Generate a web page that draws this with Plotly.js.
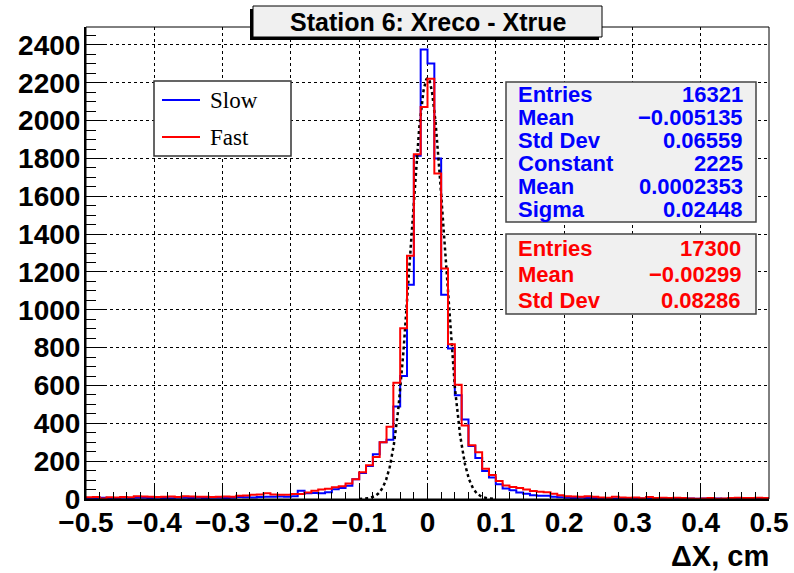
<!DOCTYPE html>
<html><head><meta charset="utf-8">
<script src="https://cdn.plot.ly/plotly-3.0.1.min.js"></script>
<style>html,body{margin:0;padding:0;background:#fff;} #chart{width:794px;height:573px;}</style>
</head><body><div id="chart"></div>
<script>
// ---- data ----
const binLow = -0.5;
const binWidth = 0.01;
const nBins = 100;
const seriesNames = ["Slow", "Fast"];
const slowCounts = [
  5,4,6,5,4,6,5,7,6,5,6,5,4,6,7,5,6,5,6,7,5,6,
  10,9,8,10,12,12,13,12,14,
  44,30,32,30,36,52,58,70,105,
  137,175,236,300,313,489,650,1132,1815,2376,2302,1800,1080,796,548,420,280,217,148,113,78,55,46,
  35,28,20,17,17,12,9,
  6,5,6,5,5,
  3,4,3,2,3,4,2,3,2,3,1,2,3,2,1,2,3,2,1,2,2,1,3,2,2
];
const fastCounts = [
  9,10,3,9,8,10,9,14,13,12,11,12,13,11,14,13,12,12,11,12,13,12,
  17,18,23,24,31,24,22,23,26,27,35,44,50,54,62,67,82,104,
  142,178,222,300,382,615,902,1286,1823,2072,2221,1721,1219,818,604,389,284,247,160,127,95,72,64,
  58,50,42,38,36,28,20,
  14,13,12,14,12,
  8,7,12,8,7,8,4,10,5,6,5,6,5,2,1,2,5,1,2,5,6,5,5,6,5
];
// Gaussian fit parameters (from the stat box)
const fitConstant = 2225;
const fitMean = 0.0002353;
const fitSigma = 0.02448;
const fitRange = [-0.1, 0.1];

const titleText = "Station 6: Xreco - Xtrue";
const xTitleText = "\u0394X, cm";
const slowStatLabels = ["Entries", "Mean", "Std Dev", "Constant", "Mean", "Sigma"];
const slowStatValues = ["16321", "\u22120.005135", "0.06559", "2225", "0.0002353", "0.02448"];
const fastStatLabels = ["Entries", "Mean", "Std Dev"];
const fastStatValues = ["17300", "\u22120.00299", "0.08286"];

// ---- build ----
const edges = [];
for (let i = 0; i <= nBins; i++) edges.push(+(binLow + i * binWidth).toFixed(4));
const stepY = c => c.concat([c[c.length - 1]]);

const fitX = [], fitY = [];
for (let i = 0; i <= 400; i++) {
  const x = fitRange[0] + (fitRange[1] - fitRange[0]) * i / 400;
  fitX.push(x);
  fitY.push(fitConstant * Math.exp(-0.5 * Math.pow((x - fitMean) / fitSigma, 2)));
}

const BLUE = "#0000ff", RED = "#ff0000";
const traces = [
  {x: edges, y: stepY(slowCounts), type: "scatter", mode: "lines", name: seriesNames[0],
   line: {shape: "hv", color: BLUE, width: 2}, showlegend: false},
  {x: fitX, y: fitY, type: "scatter", mode: "lines", name: "gaus",
   line: {color: "#000", width: 2.5, dash: "dot"}, showlegend: false},
  {x: edges, y: stepY(fastCounts), type: "scatter", mode: "lines", name: seriesNames[1],
   line: {shape: "hv", color: RED, width: 2}, showlegend: false}
];

const W = 794, H = 573, L = 86, R = 25, T = 27, B = 74;
const pw = W - L - R, ph = H - T - B;
const px = x => (x - L) / pw;
const py = y => (H - B - y) / ph;

const SANS = "Liberation Sans, Arial, Helvetica, sans-serif";
const SERIF = "Liberation Serif, Times New Roman, serif";

const shapes = [];
const annotations = [];

// frame (top/right)
shapes.push({type: "rect", xref: "paper", yref: "paper", x0: 0, x1: 1, y0: 0, y1: 1,
  line: {color: "#000", width: 1}, fillcolor: "rgba(0,0,0,0)", layer: "above"});

// title box with shadow
shapes.push({type: "rect", xref: "paper", yref: "paper", x0: px(250), x1: px(599), y0: py(40), y1: py(9),
  line: {width: 0}, fillcolor: "#000", layer: "above"});
shapes.push({type: "rect", xref: "paper", yref: "paper", x0: px(253), x1: px(602), y0: py(37), y1: py(6),
  line: {color: "#000", width: 1}, fillcolor: "#f0f0f0", layer: "above"});
annotations.push({xref: "paper", yref: "paper", x: px(428), y: py(22), text: titleText, showarrow: false,
  xanchor: "center", yanchor: "middle", font: {family: SANS, size: 25, color: "#000", weight: 700}});

// legend box
shapes.push({type: "rect", xref: "paper", yref: "paper", x0: px(154), x1: px(291), y0: py(156), y1: py(81),
  line: {color: "#333", width: 1.5}, fillcolor: "#fff", layer: "above"});
shapes.push({type: "line", xref: "paper", yref: "paper", x0: px(162), x1: px(200), y0: py(100), y1: py(100),
  line: {color: BLUE, width: 2}, layer: "above"});
shapes.push({type: "line", xref: "paper", yref: "paper", x0: px(162), x1: px(200), y0: py(137), y1: py(137),
  line: {color: RED, width: 2}, layer: "above"});
annotations.push({xref: "paper", yref: "paper", x: px(208), y: py(100), text: seriesNames[0], showarrow: false,
  xanchor: "left", yanchor: "middle", font: {family: SERIF, size: 23, color: "#000"}});
annotations.push({xref: "paper", yref: "paper", x: px(208), y: py(137), text: seriesNames[1], showarrow: false,
  xanchor: "left", yanchor: "middle", font: {family: SERIF, size: 23, color: "#000"}});

// stat boxes
function statBox(x0, x1, y0, y1, labels, values, color, firstY, dy, labelX, valueX) {
  shapes.push({type: "rect", xref: "paper", yref: "paper", x0: px(x0), x1: px(x1), y0: py(y1), y1: py(y0),
    line: {color: "#444", width: 1.5}, fillcolor: "#f0f0f0", layer: "above"});
  labels.forEach((lab, i) => {
    const y = firstY + i * dy;
    annotations.push({xref: "paper", yref: "paper", x: px(labelX), y: py(y), text: lab, showarrow: false,
      xanchor: "left", yanchor: "middle", font: {family: SANS, size: 22, color: color, weight: 700}});
    annotations.push({xref: "paper", yref: "paper", x: px(valueX), y: py(y), text: values[i], showarrow: false,
      xanchor: "right", yanchor: "middle", font: {family: SANS, size: 22, color: color, weight: 700}});
  });
}
statBox(506, 756, 82, 222, slowStatLabels, slowStatValues, BLUE, 94.5, 23, 516, 745);
statBox(506, 756, 234, 314, fastStatLabels, fastStatValues, RED, 248, 26.2, 516, 743);

// x axis title
annotations.push({xref: "paper", yref: "paper", x: px(771), y: py(556), text: xTitleText, showarrow: false,
  xanchor: "right", yanchor: "middle", font: {family: SANS, size: 29, color: "#000", weight: 700}});

const tickFont = {family: SANS, size: 28, color: "#000", weight: 700};
const layout = {
  width: W, height: H,
  margin: {l: L, r: R, t: T, b: B, pad: 0},
  paper_bgcolor: "#fff", plot_bgcolor: "#fff",
  showlegend: false,
  xaxis: {
    range: [-0.5, 0.5], dtick: 0.1, tick0: 0,
    ticks: "inside", ticklen: 14, tickwidth: 1, tickcolor: "#000",
    minor: {dtick: 0.02, ticks: "inside", ticklen: 7, tickwidth: 1, tickcolor: "#000", showgrid: false},
    showgrid: true, gridcolor: "#000", gridwidth: 1, griddash: "dot",
    zeroline: false, showline: true, linecolor: "#000", linewidth: 2,
    tickfont: tickFont, ticklabelstandoff: -3, fixedrange: true
  },
  yaxis: {
    range: [0, 2495], dtick: 200, tick0: 0,
    ticks: "inside", ticklen: 20, tickwidth: 1, tickcolor: "#000",
    minor: {dtick: 50, ticks: "inside", ticklen: 10, tickwidth: 1, tickcolor: "#000", showgrid: false},
    showgrid: true, gridcolor: "#000", gridwidth: 1, griddash: "dot",
    zeroline: false, showline: true, linecolor: "#000", linewidth: 2,
    tickfont: tickFont, ticklabelstandoff: -2, fixedrange: true
  },
  shapes: shapes,
  annotations: annotations
};

Plotly.newPlot("chart", traces, layout, {staticPlot: true, displayModeBar: false});
</script>
</body></html>
